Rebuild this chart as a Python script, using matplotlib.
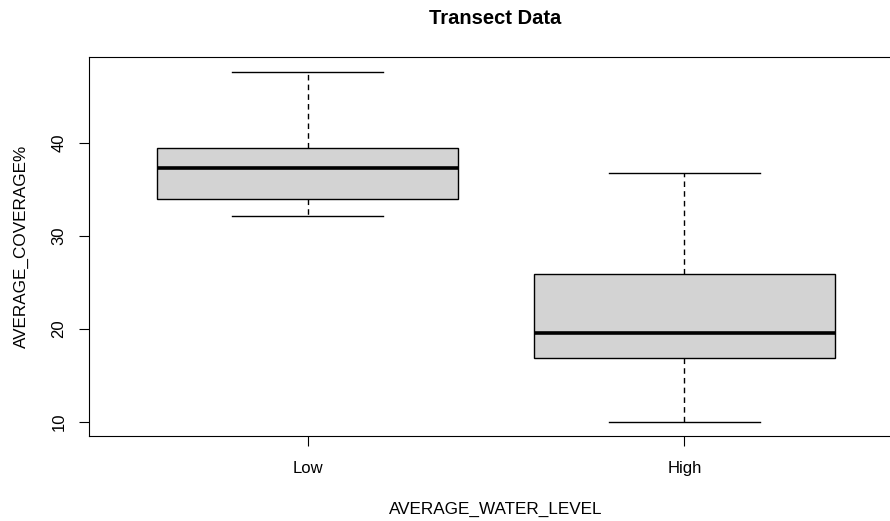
import matplotlib
matplotlib.use("Agg")
import matplotlib.pyplot as plt

plt.rcParams["font.family"] = ["Liberation Sans", "DejaVu Sans"]

# five-number summaries per water level group
groups = ["Low", "High"]
whisker_low = [32.2, 10.0]
q1 = [34.0, 16.9]
median = [37.3, 19.6]
q3 = [39.5, 25.9]
whisker_high = [47.6, 36.8]

stats = [
    {"label": g, "whislo": lo, "q1": a, "med": m, "q3": b, "whishi": hi}
    for g, lo, a, m, b, hi in zip(groups, whisker_low, q1, median, q3, whisker_high)
]

fig = plt.figure(figsize=(8.9, 5.21), dpi=100)
ax = fig.add_axes([0.1, 0.163, 0.9146, 0.7274])

ax.bxp(
    stats,
    positions=[1, 2],
    widths=0.8,
    showfliers=False,
    patch_artist=True,
    boxprops=dict(facecolor="#d3d3d3", edgecolor="black", linewidth=1.0),
    medianprops=dict(color="black", linewidth=2.6),
    whiskerprops=dict(color="black", linewidth=1.0, linestyle=(0, (4, 3))),
    capprops=dict(color="black", linewidth=1.0),
    capwidths=0.4,
)

ax.set_xlim(0.42, 2.58)
ax.set_ylim(8.5, 49.25)
ax.set_yticks([10, 20, 30, 40])
ax.set_yticklabels(["10", "20", "30", "40"], rotation=90, va="center")
ax.set_xticks([1, 2])
ax.set_xticklabels(groups)
ax.tick_params(axis="both", labelsize=12, length=7.2, width=0.8)
ax.tick_params(axis="x", pad=11)
ax.tick_params(axis="y", pad=9)
for s in ax.spines.values():
    s.set_linewidth(0.8)

ax.set_xlabel("AVERAGE_WATER_LEVEL", fontsize=12.3, labelpad=18.5)
ax.set_ylabel("AVERAGE_COVERAGE%", fontsize=12.3, labelpad=16)
fig.text(0.556, 0.965, "Transect Data", fontsize=14.5, fontweight="bold",
         ha="center", va="center")

fig.savefig("out.png", dpi=100)
